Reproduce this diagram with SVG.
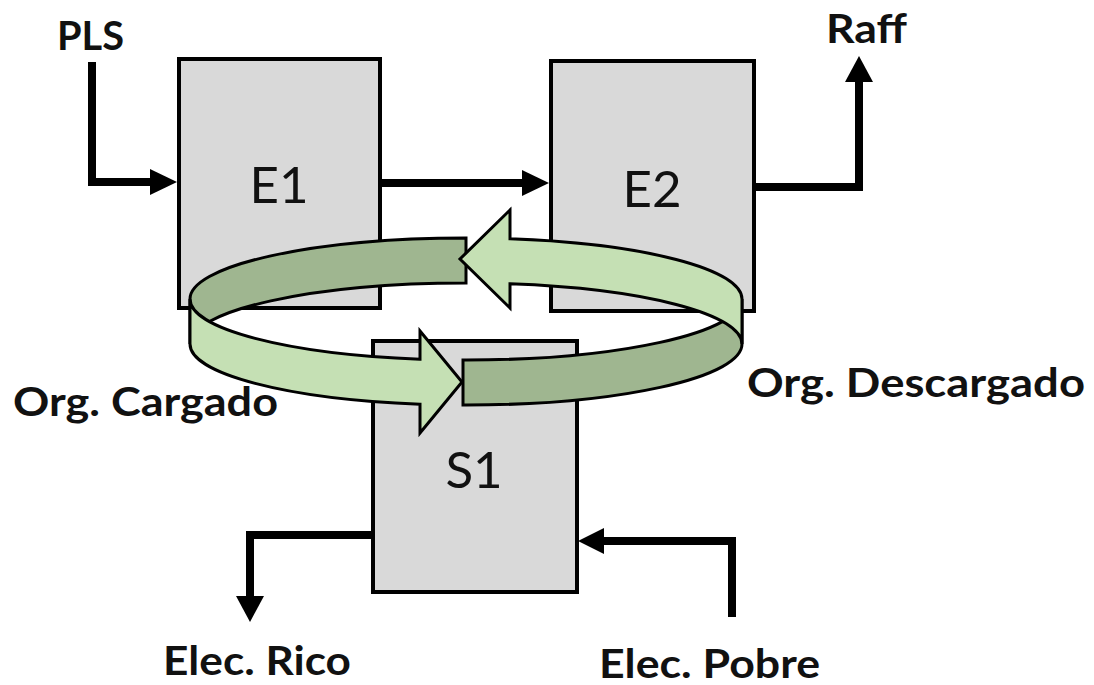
<svg xmlns="http://www.w3.org/2000/svg" width="1094" height="685" viewBox="0 0 1094 685">
  <style>
    .box { fill: #d9d9d9; stroke: #000; stroke-width: 4; }
    .boxlabel { font-family: Lato, "Liberation Sans", sans-serif; font-size: 51px; fill: #111; text-anchor: middle; }
    .label { font-family: Lato, "Liberation Sans", sans-serif; font-weight: bold; font-size: 40px; fill: #111; }
    .line { fill: none; stroke: #000; stroke-width: 8; stroke-linejoin: miter; stroke-linecap: butt; }
    .head { fill: #000; stroke: none; }
    .dark { fill: #9fb690; stroke: #000; stroke-width: 3; stroke-linejoin: miter; }
    .light { fill: #c5e0b4; stroke: #000; stroke-width: 3; stroke-linejoin: miter; }
  </style>
  <rect width="1094" height="685" fill="#fff"/>

  <g id="node-E1">
    <rect class="box" x="179" y="59" width="201" height="249"/>
    <text class="boxlabel" x="279" y="203">E1</text>
  </g>
  <g id="node-E2">
    <rect class="box" x="551" y="61" width="203" height="250"/>
    <text class="boxlabel" x="652" y="207">E2</text>
  </g>
  <g id="node-S1">
    <rect class="box" x="373" y="341" width="204" height="251"/>
    <text class="boxlabel" x="474" y="488">S1</text>
  </g>

  <g id="connectors">
    <path class="line" d="M92,62 V182 H152"/>
    <polygon class="head" points="150,169 177,182 150,195"/>
    <path class="line" d="M381,183 H524"/>
    <polygon class="head" points="522,170 549,183 522,196"/>
    <path class="line" d="M756,187 H859 V80"/>
    <polygon class="head" points="845,82 859,56 873,82"/>
    <path class="line" d="M373,535 H250 V598"/>
    <polygon class="head" points="236,596 250,622 264,596"/>
    <path class="line" d="M732,617 V541 H602"/>
    <polygon class="head" points="604,528 578,541 604,554"/>
  </g>

  <g id="recycle-ring">
    <path id="org-cargado-back" class="dark" d="M466,238 A276,61 0 0 0 190,299 L190,344 A276,61 0 0 1 466,283 Z"/>
    <path id="org-descargado-front" class="dark" d="M463,360 A276,61 0 0 0 742,299 L742,344 A276,61 0 0 1 463,405 Z"/>
    <path id="org-descargado-back" class="light" d="M742,299 A276,61 0 0 0 510,238.8 L510,210 L460,259 L510,308 L510,283.8 A276,61 0 0 1 742,344 Z"/>
    <path id="org-cargado-front" class="light" d="M190,299 A276,61 0 0 0 420,359.2 L420,331 L462,382 L420,433 L420,404.2 A276,61 0 0 1 190,344 Z"/>
  </g>

  <g id="labels">
    <text class="label" x="57" y="50" font-size="36" textLength="67" lengthAdjust="spacingAndGlyphs">PLS</text>
    <text class="label" x="826" y="43" font-size="36" textLength="81" lengthAdjust="spacingAndGlyphs">Raff</text>
    <text class="label" x="13" y="416" textLength="265" lengthAdjust="spacingAndGlyphs">Org. Cargado</text>
    <text class="label" x="747" y="397" textLength="338" lengthAdjust="spacingAndGlyphs">Org. Descargado</text>
    <text class="label" x="163" y="675" textLength="188" lengthAdjust="spacingAndGlyphs">Elec. Rico</text>
    <text class="label" x="599" y="678" textLength="221" lengthAdjust="spacingAndGlyphs">Elec. Pobre</text>
  </g>
</svg>
